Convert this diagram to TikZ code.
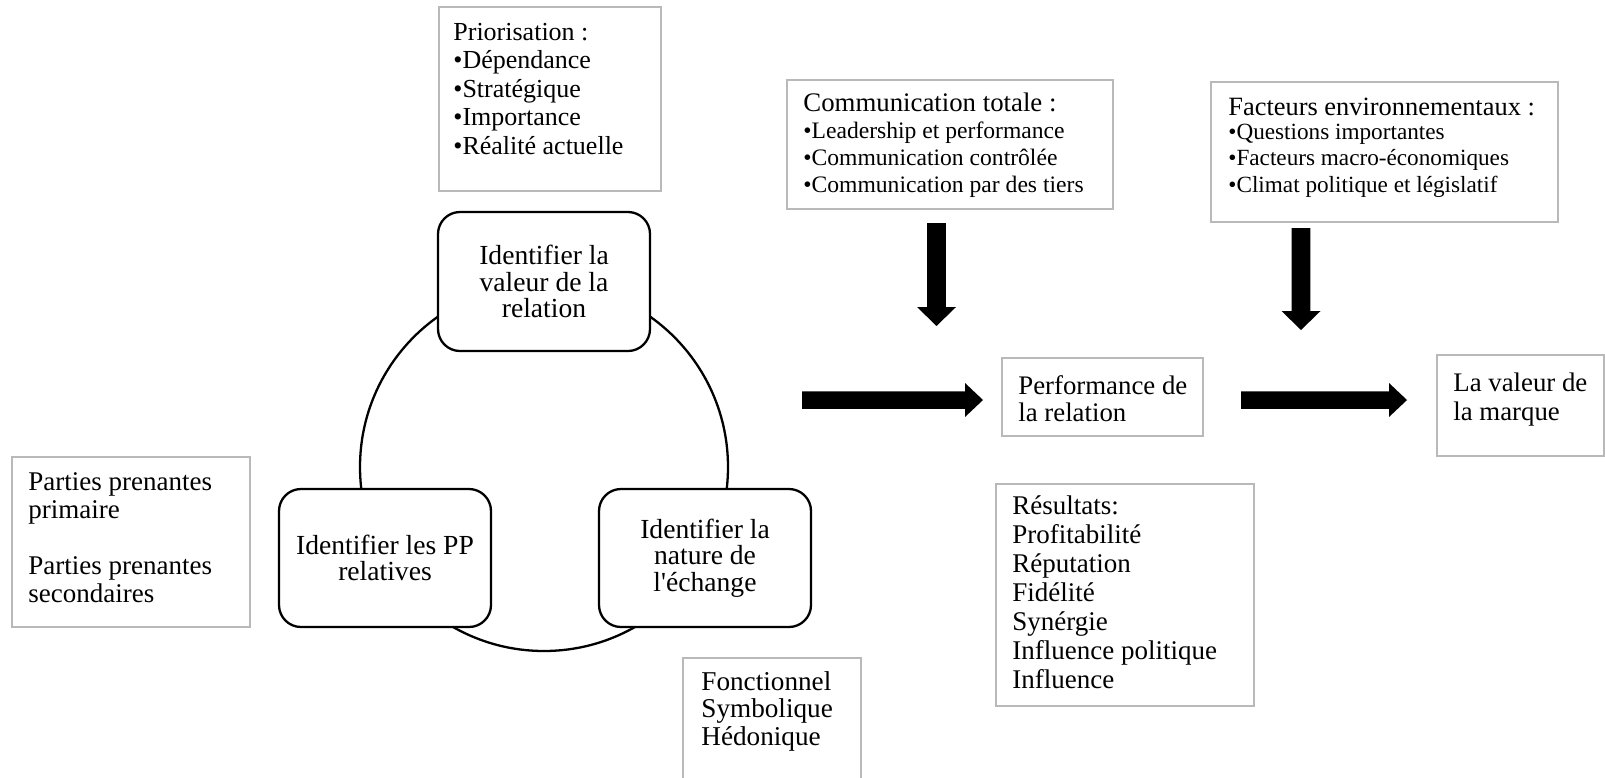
\documentclass[tikz,border=0pt]{standalone}
\usepackage{fontspec}
\setmainfont{Liberation Serif}
\usetikzlibrary{calc}
\tikzset{
  gbox/.style={draw=gray!55, line width=1pt, fill=white, inner sep=0pt},
  rbox/.style={draw=black, line width=1.15pt, rounded corners=11pt, fill=white,
    inner sep=0pt, align=center, font=\fontsize{13.8}{13.3}\selectfont},
  txt/.style={anchor=north west, inner sep=0pt, align=left},
  cyc/.style={draw=black, line width=1.15pt},
  blk/.style={fill=black},
}
\begin{document}
\begin{tikzpicture}[x=0.5pt,y=-0.5pt]
\useasboundingbox (0,0) rectangle (1605,777);
\clip (0,0) rectangle (1605,777);
\fill[white] (0,0) rectangle (1605,777);

% cycle
\coordinate (cc) at (544,467);
\draw[cyc] (cc) circle (184);
\node[rbox, minimum width=106pt, minimum height=69.5pt] (rv) at (544,281.5)
  {Identifier la\\valeur de la\\relation};
\node[rbox, minimum width=106pt, minimum height=69pt] (rl) at (385,558)
  {Identifier les PP\\relatives};
\node[rbox, minimum width=106pt, minimum height=69pt] (rr) at (705,558)
  {Identifier la\\nature de\\l\textquotesingle échange};

% grey boxes
\node[gbox, minimum width=111pt, minimum height=92pt] (prio) at (550,99) {};
\node[txt, font=\fontsize{13}{14.25}\selectfont] (priot) at (453,20)
  {\strut Priorisation :\\•Dépendance\\•Stratégique\\•Importance\\•Réalité actuelle};

\node[gbox, minimum width=163pt, minimum height=64.5pt] (comm) at (950,144.5) {};
\node[txt, font=\fontsize{11.8}{13.5}\selectfont] (commt) at (803,92)
  {{\fontsize{13.4}{13.5}\selectfont\strut Communication totale :}\\•Leadership et performance\\•Communication contrôlée\\•Communication par des tiers};

\node[gbox, minimum width=173.5pt, minimum height=70pt] (fact) at (1384.5,152) {};
\node[txt, font=\fontsize{11.6}{13.2}\selectfont] (factt) at (1228,96.5)
  {{\fontsize{13.2}{13.2}\selectfont\strut Facteurs environnementaux :}\\[-1.2pt]•Questions importantes\\•Facteurs macro-économiques\\•Climat politique et législatif};

\node[gbox, minimum width=119pt, minimum height=85pt] (part) at (131,542) {};
\node[txt, font=\fontsize{13.5}{14}\selectfont] (partt) at (28,470.4)
  {\strut Parties prenantes\\primaire\\[14pt]Parties prenantes\\secondaires};

\node[gbox, minimum width=89pt, minimum height=71pt] (fonc) at (772,729) {};
\node[txt, font=\fontsize{13.6}{13.75}\selectfont] (fonct) at (701,670.75)
  {\strut Fonctionnel\\Symbolique\\Hédonique};

\node[gbox, minimum width=129pt, minimum height=111pt] (res) at (1125,595) {};
\node[txt, font=\fontsize{13.5}{14.5}\selectfont] (rest) at (1012,493.7)
  {\strut Résultats:\\Profitabilité\\Réputation\\Fidélité\\Synérgie\\Influence politique\\Influence};

\node[gbox, minimum width=100.5pt, minimum height=39pt] (perf) at (1102.5,397) {};
\node[txt, font=\fontsize{13.4}{13.5}\selectfont] (perft) at (1018,375)
  {\strut Performance de\\la relation};

\node[gbox, minimum width=83.5pt, minimum height=50.5pt] (val) at (1520.5,405.5) {};
\node[txt, font=\fontsize{13.4}{13}\selectfont] (valt) at (1453,372.8)
  {\strut La valeur de\\la marque};

% block arrows
\coordinate (h1s) at (802,400); \coordinate (h1e) at (983,400);
\fill[blk] ($(h1s)+(0,-8.75)$) -- ($(h1e)+(-18,-8.75)$) -- ($(h1e)+(-18,-17)$) -- (h1e)
  -- ($(h1e)+(-18,17)$) -- ($(h1e)+(-18,8.75)$) -- ($(h1s)+(0,8.75)$) -- cycle;
\coordinate (h2s) at (1241,400); \coordinate (h2e) at (1407,400);
\fill[blk] ($(h2s)+(0,-8.75)$) -- ($(h2e)+(-18,-8.75)$) -- ($(h2e)+(-18,-17)$) -- (h2e)
  -- ($(h2e)+(-18,17)$) -- ($(h2e)+(-18,8.75)$) -- ($(h2s)+(0,8.75)$) -- cycle;
\coordinate (v1s) at (936.5,223); \coordinate (v1e) at (936.5,326);
\fill[blk] ($(v1s)+(-9.3,0)$) -- ($(v1e)+(-9.3,-19)$) -- ($(v1e)+(-19.5,-19)$) -- (v1e)
  -- ($(v1e)+(19.5,-19)$) -- ($(v1e)+(9.3,-19)$) -- ($(v1s)+(9.3,0)$) -- cycle;
\coordinate (v2s) at (1301,228); \coordinate (v2e) at (1301,330);
\fill[blk] ($(v2s)+(-9.3,0)$) -- ($(v2e)+(-9.3,-19)$) -- ($(v2e)+(-19.5,-19)$) -- (v2e)
  -- ($(v2e)+(19.5,-19)$) -- ($(v2e)+(9.3,-19)$) -- ($(v2s)+(9.3,0)$) -- cycle;
\end{tikzpicture}
\end{document}
